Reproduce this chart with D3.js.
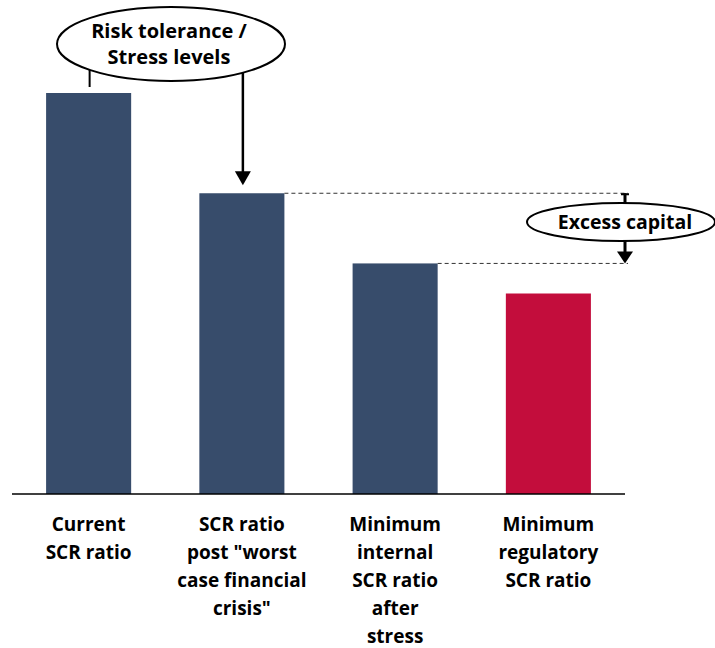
<!DOCTYPE html>
<html>
<head>
<meta charset="utf-8">
<script src="https://cdn.jsdelivr.net/npm/d3@7"></script>
<style>
  body { margin: 0; background: #fff; }
  text { font-family: "Open Sans", sans-serif; font-weight: bold; fill: #000; }
</style>
</head>
<body>
<div id="chart"></div>
<script>
// values are SCR ratios in %
let categories = ["current", "worst", "internal", "regulatory"];
let tickLabels = [
  ["Current", "SCR ratio"],
  ["SCR ratio", "post \"worst", "case financial", "crisis\""],
  ["Minimum", "internal", "SCR ratio", "after", "stress"],
  ["Minimum", "regulatory", "SCR ratio"]
];
let scrValues = [200, 150, 115, 100];
let barColors = ["#374c6b", "#374c6b", "#374c6b", "#c30d3c"];
let bubbleText = ["Risk tolerance /", "Stress levels"];
let excessText = "Excess capital";

let W = 715, H = 648;
let svg = d3.select("#chart").append("svg").attr("width", W).attr("height", H);

let x = d3.scaleBand().domain(categories).range([12, 625]).paddingInner(0.445).paddingOuter(0.2225);
let y = d3.scaleLinear().domain([0, 200]).range([494, 93]);

// bars
svg.selectAll("rect.bar")
  .data(scrValues)
  .enter().append("rect")
    .attr("class", "bar")
    .attr("x", function(d, i){ return x(categories[i]); })
    .attr("y", function(d){ return y(d); })
    .attr("width", x.bandwidth())
    .attr("height", function(d){ return y(0) - y(d); })
    .attr("fill", function(d, i){ return barColors[i]; });

// baseline
svg.append("line")
  .attr("x1", 12).attr("x2", 625)
  .attr("y1", y(0)).attr("y2", y(0))
  .attr("stroke", "#000").attr("stroke-width", 1.5);

// category labels
tickLabels.forEach(function(lines, i){
  let t = svg.append("text")
    .attr("text-anchor", "middle")
    .attr("font-size", 19);
  lines.forEach(function(s, j){
    t.append("tspan")
      .attr("x", x(categories[i]) + x.bandwidth() / 2)
      .attr("y", 531 + j * 28)
      .text(s);
  });
});

// dashed guides for excess capital
let bracketX = 625;
[1, 2].forEach(function(i){
  svg.append("line")
    .attr("x1", x(categories[i]) + x.bandwidth()).attr("x2", bracketX + 3)
    .attr("y1", y(scrValues[i])).attr("y2", y(scrValues[i]))
    .attr("stroke", "#333").attr("stroke-width", 1)
    .attr("stroke-dasharray", "4,3");
});

// risk tolerance bubble
let cx1 = x(categories[0]) + x.bandwidth() / 2;
let cx2 = x(categories[1]) + x.bandwidth() / 2;

svg.append("line")
  .attr("x1", cx1 + 1).attr("x2", cx1 + 1)
  .attr("y1", 68).attr("y2", y(scrValues[0]) - 6)
  .attr("stroke", "#000").attr("stroke-width", 2);

svg.append("line")
  .attr("x1", cx2 + 1).attr("x2", cx2 + 1)
  .attr("y1", 70).attr("y2", y(scrValues[1]) - 20)
  .attr("stroke", "#000").attr("stroke-width", 2.5);
svg.append("path")
  .attr("d", d3.line()([[cx2 + 1 - 8, y(scrValues[1]) - 22], [cx2 + 1 + 8, y(scrValues[1]) - 22], [cx2 + 1, y(scrValues[1]) - 8]]) + "Z")
  .attr("fill", "#000");

svg.append("ellipse")
  .attr("cx", 171).attr("cy", 44).attr("rx", 114).attr("ry", 37)
  .attr("fill", "#fff").attr("stroke", "#000").attr("stroke-width", 2);

let bt = svg.append("text").attr("text-anchor", "middle").attr("font-size", 20);
bubbleText.forEach(function(s, j){
  bt.append("tspan").attr("x", 169).attr("y", 38 + j * 26).text(s);
});

// excess capital bracket
let yTop = y(scrValues[1]), yBot = y(scrValues[2]);
svg.append("line")
  .attr("x1", bracketX - 4).attr("x2", bracketX + 4)
  .attr("y1", yTop + 1).attr("y2", yTop + 1)
  .attr("stroke", "#000").attr("stroke-width", 2);
svg.append("line")
  .attr("x1", bracketX).attr("x2", bracketX)
  .attr("y1", yTop).attr("y2", 206)
  .attr("stroke", "#000").attr("stroke-width", 3);
svg.append("line")
  .attr("x1", bracketX).attr("x2", bracketX)
  .attr("y1", 238).attr("y2", yBot - 10)
  .attr("stroke", "#000").attr("stroke-width", 3);
svg.append("path")
  .attr("d", d3.line()([[bracketX - 8, yBot - 12], [bracketX + 8, yBot - 12], [bracketX, yBot]]) + "Z")
  .attr("fill", "#000");

svg.append("ellipse")
  .attr("cx", 621).attr("cy", 222).attr("rx", 94).attr("ry", 19)
  .attr("fill", "#fff").attr("stroke", "#000").attr("stroke-width", 2);

svg.append("text")
  .attr("x", 625).attr("y", 229)
  .attr("text-anchor", "middle")
  .attr("font-size", 19.5)
  .text(excessText);
</script>
</body>
</html>
